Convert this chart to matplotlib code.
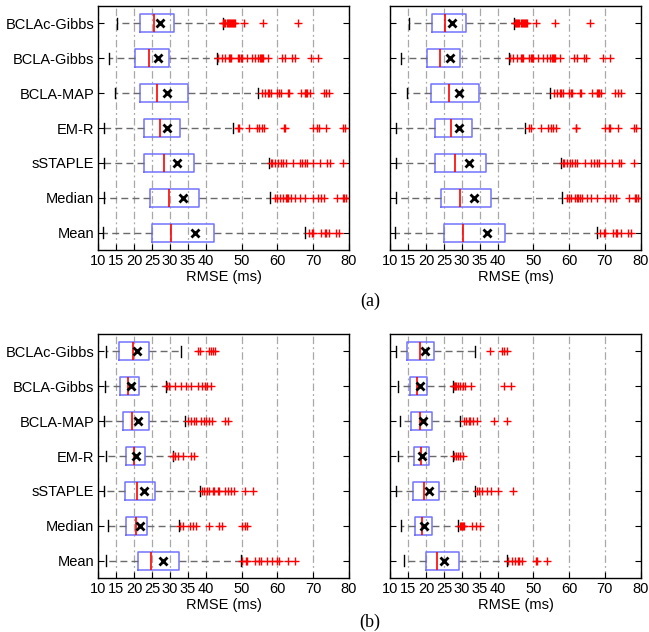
import matplotlib
matplotlib.use("Agg")
import matplotlib.pyplot as plt

plt.rcParams['font.family'] = ['Liberation Sans', 'DejaVu Sans']

categories = ['BCLAc-Gibbs', 'BCLA-Gibbs', 'BCLA-MAP', 'EM-R', 'sSTAPLE', 'Median', 'Mean']
xticks = [10, 15, 20, 25, 30, 35, 40, 50, 60, 70, 80]

# ---- panel (a) (both columns show the same data) ----
a_whislo = [15.3, 13.1, 14.6, 11.5, 11.5, 11.5, 11.2]
a_q1 = [21.7, 20.2, 21.5, 22.6, 22.6, 24.3, 24.9]
a_med = [25.4, 24.0, 26.5, 27.1, 28.2, 29.6, 30.4]
a_q3 = [31.1, 29.6, 34.9, 32.9, 36.8, 38.1, 42.2]
a_whishi = [44.7, 43.1, 54.7, 47.6, 57.6, 57.9, 67.8]
a_mean = [27.3, 26.7, 29.3, 29.3, 32.0, 33.5, 36.9]
a_fliers = [
    [44.9, 45.2, 45.5, 45.8, 46.1, 46.4, 46.7, 47.0, 47.3, 47.6, 47.9, 48.2, 50.8, 56.0, 65.7],
    [43.5, 44.4, 45.4, 46.5, 46.8, 47.1, 48.9, 49.4, 49.7, 50.0, 51.4, 52.8, 53.7, 54.6, 55.2,
     55.5, 55.8, 56.0, 57.4, 61.4, 62.1, 64.1, 64.8, 69.4, 71.3],
    [55.8, 56.6, 57.4, 57.7, 58.3, 59.9, 60.5, 60.9, 63.0, 63.3, 66.5, 67.8, 68.1, 68.4, 69.0,
     72.9, 73.6, 74.4],
    [48.9, 49.2, 52.0, 54.2, 54.8, 55.6, 56.2, 61.8, 62.0, 69.9, 71.2, 71.5, 73.6, 78.2, 78.8],
    [58.3, 58.6, 59.4, 60.2, 60.9, 61.7, 62.3, 64.4, 66.2, 66.9, 67.8, 68.3, 69.9, 72.0, 73.9,
     74.6, 78.2],
    [59.3, 60.0, 60.6, 61.6, 62.3, 62.6, 63.1, 63.7, 65.0, 66.2, 67.8, 69.9, 71.3, 72.2, 73.1,
     76.7, 78.4, 78.7, 79.2],
    [68.7, 69.7, 70.0, 72.2, 73.2, 73.5, 74.5, 76.4, 77.3],
]

# ---- panel (b) left ----
bl_whislo = [12.2, 11.9, 11.6, 12.0, 11.6, 12.7, 12.2]
bl_q1 = [15.7, 16.1, 17.0, 17.6, 17.3, 17.8, 21.1]
bl_med = [19.8, 18.3, 19.5, 20.0, 20.9, 20.6, 24.8]
bl_q3 = [24.1, 21.4, 24.0, 23.0, 25.9, 23.7, 32.6]
bl_whishi = [33.0, 29.0, 34.3, 30.7, 38.5, 32.4, 49.7]
bl_mean = [20.9, 19.2, 21.2, 20.4, 22.7, 21.5, 28.0]
bl_fliers = [
    [37.8, 38.5, 40.9, 41.5, 42.0, 42.6],
    [29.2, 29.6, 31.3, 33.1, 34.5, 35.9, 37.8, 39.0, 39.7, 40.4, 41.5],
    [35.0, 35.9, 36.8, 37.2, 38.7, 39.5, 40.1, 40.9, 41.7, 45.5, 46.3],
    [30.9, 31.3, 32.2, 33.6, 35.9, 36.7],
    [39.0, 39.5, 40.3, 40.8, 42.0, 42.3, 43.4, 43.8, 45.3, 46.3, 47.1, 48.0, 51.0, 53.3],
    [32.7, 33.6, 35.5, 36.4, 37.3, 41.0, 43.7, 44.6, 50.2, 50.9, 51.6],
    [50.0, 51.2, 51.6, 53.7, 54.9, 55.3, 57.0, 58.4, 60.0, 60.4, 63.0, 64.9],
]

# ---- panel (b) right ----
br_whislo = [11.7, 12.2, 12.7, 12.2, 11.6, 13.1, 13.9]
br_q1 = [14.8, 15.5, 15.9, 16.7, 16.4, 16.9, 19.9]
br_med = [18.4, 17.5, 18.2, 18.7, 19.5, 18.9, 23.1]
br_q3 = [22.3, 20.3, 21.7, 20.9, 23.6, 21.7, 29.2]
br_whishi = [33.8, 27.6, 29.6, 27.4, 33.8, 28.8, 42.7]
br_mean = [19.7, 18.3, 19.2, 18.9, 20.8, 19.5, 25.1]
br_fliers = [
    [37.8, 41.3, 41.8, 42.5],
    [27.9, 28.2, 28.5, 28.8, 29.4, 30.2, 30.8, 32.5, 41.8, 43.7],
    [30.6, 31.3, 32.0, 32.3, 33.2, 34.3, 39.0, 42.5],
    [27.8, 28.3, 29.0, 29.6, 30.4],
    [34.3, 34.9, 35.5, 36.9, 38.1, 40.2, 44.2],
    [29.4, 29.7, 30.0, 30.3, 30.6, 32.7, 33.9, 35.0],
    [43.0, 43.9, 44.8, 45.6, 45.9, 46.7, 50.7, 51.0, 53.9],
]


def make_stats(whislo, q1, med, q3, whishi, mean, fliers):
    stats = []
    for i in range(len(categories)):
        stats.append(dict(label=categories[i], whislo=whislo[i], q1=q1[i], med=med[i],
                          q3=q3[i], whishi=whishi[i], mean=mean[i], fliers=fliers[i]))
    return stats


fig = plt.figure(figsize=(6.49, 6.32), dpi=100)
W, H = 649.0, 632.0
left_x = (98.4, 349.0)
right_x = (390.3, 640.7)
top_y = (6.0, 250.0)
bot_y = (334.0, 578.0)


def add_axes(xr, yr):
    return fig.add_axes([xr[0] / W, 1 - yr[1] / H, (xr[1] - xr[0]) / W, (yr[1] - yr[0]) / H])


panels = [
    (add_axes(left_x, top_y), make_stats(a_whislo, a_q1, a_med, a_q3, a_whishi, a_mean, a_fliers), True),
    (add_axes(right_x, top_y), make_stats(a_whislo, a_q1, a_med, a_q3, a_whishi, a_mean, a_fliers), False),
    (add_axes(left_x, bot_y), make_stats(bl_whislo, bl_q1, bl_med, bl_q3, bl_whishi, bl_mean, bl_fliers), True),
    (add_axes(right_x, bot_y), make_stats(br_whislo, br_q1, br_med, br_q3, br_whishi, br_mean, br_fliers), False),
]

positions = list(range(len(categories), 0, -1))

for ax, stats, show_labels in panels:
    for xv in xticks:
        ax.axvline(xv, color='#a8a8a8', lw=0.9, ls=(0, (6, 2.5, 1.5, 2.5)), zorder=0)
    ax.bxp(stats, positions=positions, orientation='horizontal', widths=0.52,
           showmeans=True, capwidths=0.3,
           boxprops=dict(color='#7373ff', lw=1.1),
           medianprops=dict(color='#ff0000', lw=1.2),
           whiskerprops=dict(color='#6a6a6a', lw=1.0, ls=(0, (5, 3))),
           capprops=dict(color='black', lw=1.0),
           flierprops=dict(marker='+', markeredgecolor='#ff0000', markersize=6, mew=1.0, ls='none'),
           meanprops=dict(marker='x', markeredgecolor='black', markerfacecolor='black',
                          markersize=5.5, mew=2.0))
    ax.set_xlim(10, 80)
    ax.set_ylim(0.5, len(categories) + 0.5)
    ax.set_xticks(xticks)
    ax.set_xticklabels([str(v) for v in xticks], fontsize=10.5)
    ax.set_yticks(positions)
    if show_labels:
        ax.set_yticklabels(categories, fontsize=10.5)
    else:
        ax.set_yticklabels([])
    ax.tick_params(direction='in', length=4, width=0.8, top=False, right=True, pad=3)
    ax.tick_params(axis='x', pad=3)
    ax.set_xlabel('RMSE (ms)', fontsize=10.5, labelpad=1)
    for sp in ax.spines.values():
        sp.set_linewidth(1.0)
        sp.set_color('black')

fig.text(370 / W, 1 - 301 / H, '(a)', ha='center', va='center', fontsize=13,
         family=['Liberation Serif', 'DejaVu Serif'])
fig.text(370 / W, 1 - 622 / H, '(b)', ha='center', va='center', fontsize=13,
         family=['Liberation Serif', 'DejaVu Serif'])

fig.savefig('out.png', dpi=100)
